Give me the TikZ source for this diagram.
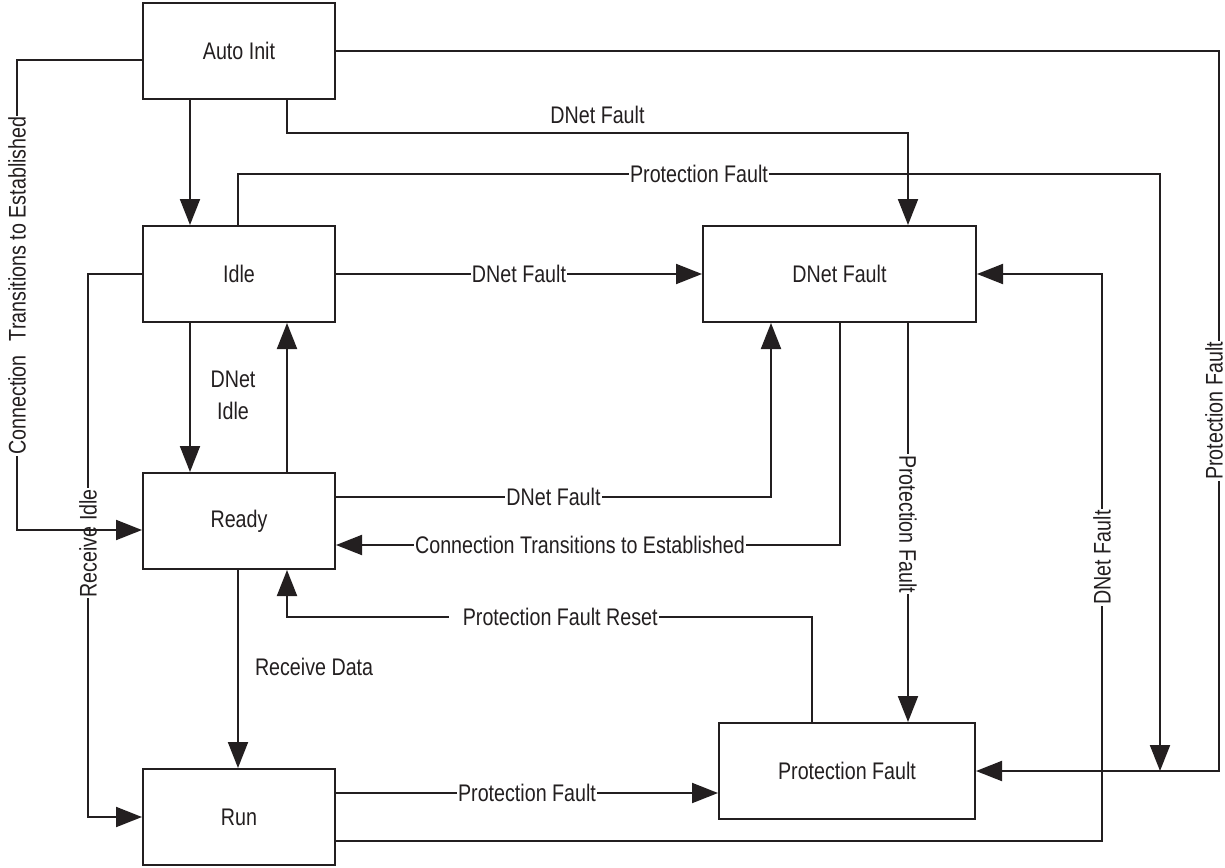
\documentclass[tikz,border=0pt]{standalone}
\usepackage{fontspec}
\setmainfont{Liberation Sans}[FakeStretch=0.82]
\usetikzlibrary{arrows.meta}
\definecolor{ink}{RGB}{35,31,32}
\newcommand{\fs}{\fontsize{24}{32}\selectfont}
\begin{document}
\begin{tikzpicture}[x=1pt,y=-1pt,line width=2pt,color=ink,
  box/.style={draw,minimum width=192pt,minimum height=96pt,inner sep=0pt,font=\fs},
  lbl/.style={fill=white,inner xsep=1pt,inner ysep=1pt,font=\fs},
  arr/.style={-{Triangle[length=26pt,width=20pt]}}]
\useasboundingbox (0,0) rectangle (1225,867);
% states
\node[box] (auto) at (239,51) {Auto Init};
\node[box] (idle) at (239,274) {Idle};
\node[box] (ready) at (239,521) {Ready};
\node[box] (run) at (239,817) {Run};
\node[box,minimum width=273pt] (dnf) at (839.5,274) {DNet Fault};
\node[box,minimum width=256pt] (pf) at (847,771) {Protection Fault};
\coordinate (j) at (1160,771);
% transitions
\draw[arr] ([xshift=-49pt]auto.south) -- ([xshift=-49pt]idle.north);
\draw[arr] ([xshift=48pt]auto.south) -- ++(0,33) -| node[pos=0.25,above=7pt,inner sep=1pt,font=\fs]{DNet Fault} ([xshift=68.5pt]dnf.north);
\draw[arr] (auto.east) -| node[lbl,pos=0.75,rotate=90,yshift=5pt,inner ysep=0pt]{Protection Fault} ([xshift=243pt]pf.east) -- (pf.east);
\draw[arr] ([xshift=-1pt]idle.north) -- ++(0,-51) -| node[lbl,pos=0.25]{Protection Fault} (j);
\draw[arr] (idle.east) -- node[lbl]{DNet Fault} (dnf.west);
\draw[arr] (idle.west) -- ++(-54,0) |- node[lbl,pos=0.248,rotate=90]{Receive Idle} (run.west);
\draw[arr] ([yshift=-9pt]auto.west) -- ++(-125,0) |- node[lbl,pos=0.24,rotate=90]{Connection\hspace{14pt}Transitions to Established} ([yshift=-9pt]ready.west);
\draw[arr] ([xshift=-49pt]idle.south) -- ([xshift=-49pt]ready.north);
\node[font=\fs,align=center] (dnidle) at (233,395) {DNet\\Idle};
\draw[arr] ([xshift=48pt]ready.north) -- ([xshift=48pt]idle.south);
\draw[arr] ([yshift=24pt]ready.east) -| node[lbl,pos=0.25]{DNet Fault} ([xshift=-68.5pt]dnf.south);
\draw[arr] ([xshift=0.5pt]dnf.south) |- node[lbl,pos=0.758]{Connection Transitions to Established\hspace{14pt}} ([yshift=-24pt]ready.east);
\draw[arr] ([xshift=68.5pt]dnf.south) -- node[lbl,rotate=-90,pos=0.504]{Protection Fault} ([xshift=61pt]pf.north);
\draw[arr] ([xshift=-35pt]pf.north) -- ++(0,-105) -| node[lbl,pos=0.246]{\hspace{13pt}Protection Fault Reset\hspace{6pt}} ([xshift=48pt]ready.south);
\draw[arr] ([xshift=-1pt]ready.south) -- ([xshift=-1pt]run.north);
\node[font=\fs,anchor=west,inner sep=0pt] (rd) at (254,667) {Receive Data};
\draw[arr] ([yshift=24pt]run.east) -- node[lbl]{Protection Fault} ([yshift=-22pt]pf.west);
\draw[arr] ([yshift=-24pt]run.east) -| node[lbl,pos=0.75,rotate=90]{DNet Fault} ([xshift=125pt]dnf.east) -- (dnf.east);
\end{tikzpicture}
\end{document}
